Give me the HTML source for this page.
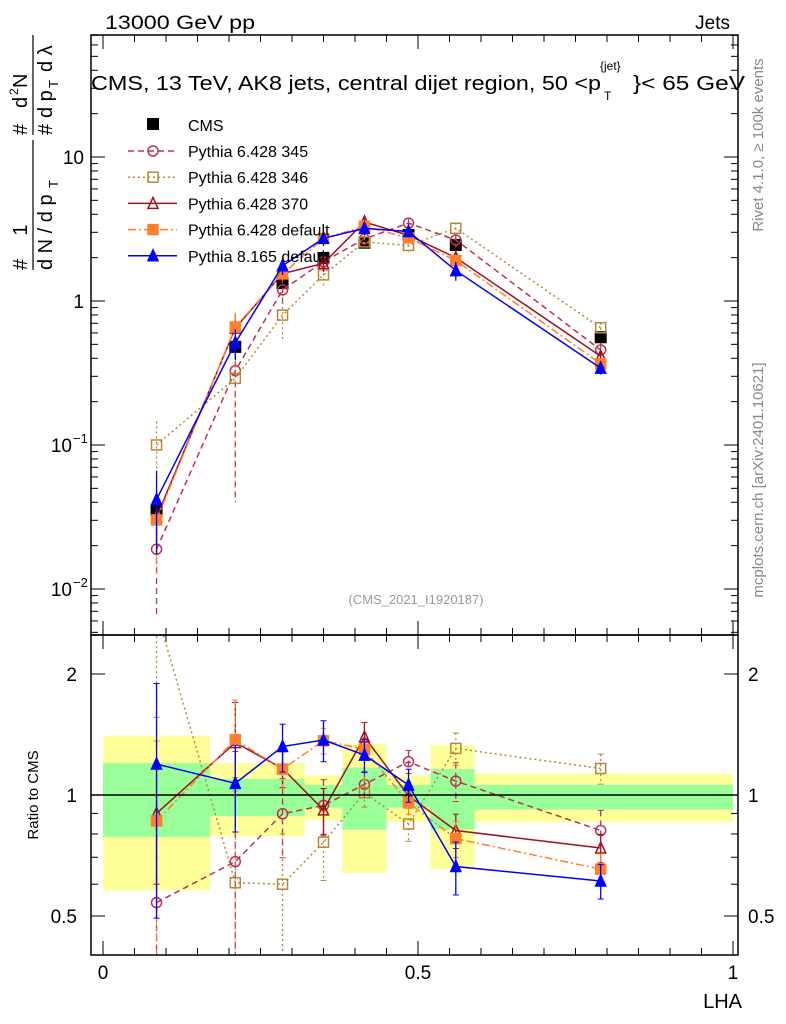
<!DOCTYPE html>
<html><head><meta charset="utf-8"><style>
html,body{margin:0;padding:0;background:#fff;overflow:hidden;width:786px;height:1024px;}
svg{display:block;position:absolute;left:0;top:0;font-family:"Liberation Sans",sans-serif;}
</style></head><body>
<svg id="c" width="786" height="1024" viewBox="0 0 786 1024" xmlns="http://www.w3.org/2000/svg">
<defs>
<clipPath id="cm"><rect x="91" y="35" width="647" height="600"/></clipPath>
<clipPath id="cr"><rect x="91" y="635" width="647" height="320"/></clipPath>
</defs>
<g id="bands" clip-path="url(#cr)"></g>
<g id="grid"></g>
<g id="marks"></g>
<rect x="91" y="35" width="647" height="600" fill="none" stroke="#000" stroke-width="1.5"/>
<rect x="91" y="635" width="647" height="320" fill="none" stroke="#000" stroke-width="1.5"/>
<line x1="91" y1="795" x2="738" y2="795" stroke="#000" stroke-width="1.5"/>
<text x="105" y="29" font-size="19" textLength="150" lengthAdjust="spacingAndGlyphs">13000 GeV pp</text>
<text x="730" y="29" font-size="19" text-anchor="end">Jets</text>
<text x="91" y="90" font-size="20" textLength="510" lengthAdjust="spacingAndGlyphs">CMS, 13 TeV, AK8 jets, central dijet region, 50 &lt;p</text>
<text x="604" y="100" font-size="12">T</text>
<text x="600" y="70" font-size="12">{jet}</text>
<text x="633" y="90" font-size="20" textLength="112" lengthAdjust="spacingAndGlyphs">}&lt; 65 GeV</text>
<text transform="translate(763,145) rotate(-90)" font-size="15" fill="#888" text-anchor="middle">Rivet 4.1.0, ≥ 100k events</text>
<text transform="translate(763,480) rotate(-90)" font-size="15" fill="#888" text-anchor="middle">mcplots.cern.ch [arXiv:2401.10621]</text>
<text x="416" y="604" font-size="13" fill="#999" text-anchor="middle">(CMS_2021_I1920187)</text>
<text transform="translate(38,795) rotate(-90)" font-size="15" text-anchor="middle">Ratio to CMS</text>
<text x="742" y="1008" font-size="20" text-anchor="end">LHA</text>
<g font-size="20">
<text transform="translate(27,270) rotate(-90)" >#</text>
<text transform="translate(27,230) rotate(-90)" text-anchor="middle">1</text>
<line x1="33" y1="270" x2="33" y2="140" stroke="#000" stroke-width="1.2"/>
<text transform="translate(52,270) rotate(-90)">d N / d p</text>
<text transform="translate(58,188) rotate(-90)" font-size="13">T</text>
<text transform="translate(27,135) rotate(-90)">#</text>
<text transform="translate(27,108) rotate(-90)">d</text>
<text transform="translate(18,95) rotate(-90)" font-size="12">2</text>
<text transform="translate(27,88) rotate(-90)">N</text>
<line x1="33" y1="135" x2="33" y2="35" stroke="#000" stroke-width="1.2"/>
<text transform="translate(52,135) rotate(-90)">#</text>
<text transform="translate(52,118) rotate(-90)">d p</text>
<text transform="translate(58,88) rotate(-90)" font-size="13">T</text>
<text transform="translate(52,72) rotate(-90)">d λ</text>
</g>
<g id="legend"></g>
</svg>
<script>
const NS="http://www.w3.org/2000/svg";
// data
const lhaCenters=[0.085,0.21,0.285,0.35,0.415,0.485,0.56,0.79];
const cmsValues=[0.035,0.48,1.33,1.99,2.54,2.87,2.45,0.56];
const cmsErr=[0.004,0.04,0.08,0.1,0.1,0.12,0.12,0.03];
const bandEdges=[0,0.17,0.32,0.38,0.45,0.52,0.59,1.0];
const yellowHi=[1.405,1.20,1.12,1.34,1.12,1.33,1.13];
const yellowLo=[0.58,0.79,0.867,0.64,0.857,0.655,0.857];
const greenHi=[1.20,1.096,1.06,1.17,1.06,1.16,1.06];
const greenLo=[0.786,0.887,0.93,0.82,0.93,0.82,0.92];
const ratio345=[0.54,0.683,0.898,0.942,1.063,1.21,1.083,0.816];
const err345=[0.35,0.6,0.2,0.15,0.08,0.08,0.12,0.1];
const ratio346=[2.86,0.605,0.60,0.763,1.013,0.847,1.306,1.164];
const err346=[1.3,0.5,0.2,0.15,0.08,0.08,0.12,0.1];
const ratio370=[0.9,1.35,1.164,0.918,1.394,0.995,0.816,0.738];
const err370=[0.3,0.35,0.12,0.12,0.12,0.06,0.08,0.06];
const ratioDef=[0.862,1.373,1.16,1.365,1.30,0.956,0.779,0.654];
const errDef=[0.5,0.35,0.12,0.1,0.08,0.06,0.08,0.06];
const ratioP8=[1.194,1.069,1.32,1.37,1.257,1.059,0.664,0.611];
const errP8=[0.7,0.26,0.18,0.16,0.12,0.1,0.1,0.06];
const mainYTicks=[0.01,0.1,1,10];
const ratioYTicks=[0.5,1,2];
const xTicks=[0,0.5,1];

const X=v=>103+630*v;
const YM=v=>301-144*Math.log10(v);
const YR=v=>795-402*Math.log10(v);
const svg=document.getElementById('c');
function mk(tag,attrs,parent){const e=document.createElementNS(NS,tag);for(const k in attrs)e.setAttribute(k,attrs[k]);(parent||svg).appendChild(e);return e;}

// bands
const bands=document.getElementById('bands');
for(let i=0;i<yellowHi.length;i++){
 const r=mk('rect',{x:X(bandEdges[i]),y:YR(yellowHi[i]),width:X(bandEdges[i+1])-X(bandEdges[i]),height:YR(yellowLo[i])-YR(yellowHi[i]),fill:'#ffff99'},bands);
 
 
 const g=mk('rect',{x:X(bandEdges[i]),y:YR(greenHi[i]),width:X(bandEdges[i+1])-X(bandEdges[i]),height:YR(greenLo[i])-YR(greenHi[i]),fill:'#99ff99'},bands);
 
 
}

// axes ticks
const grid=document.getElementById('grid');
for(let d=-3;d<=1;d++){for(let m=1;m<10;m++){const v=m*Math.pow(10,d);const y=YM(v);if(y<35||y>635)continue;const L=m==1?14:7;
 mk('line',{x1:91,x2:91+L,y1:y,y2:y,stroke:'#000'},grid);mk('line',{x1:738,x2:738-L,y1:y,y2:y,stroke:'#000'},grid);}}
mainYTicks.forEach(v=>{const y=YM(v);
 let t;
 if(v>=1){t=mk('text',{x:84,y:y+7,'font-size':19,'text-anchor':'end'},grid);t.textContent=String(v);}
 else{t=mk('text',{x:72,y:y+7,'font-size':19,'text-anchor':'end'},grid);t.textContent='10';const s=mk('text',{x:73,y:y-2,'font-size':13},grid);s.textContent='\u2212'+Math.round(-Math.log10(v));}
 
 
});
[0.5,0.6,0.7,0.8,0.9,1,2].forEach(v=>{const y=YR(v);if(y<635||y>955)return;const L=(v==1||v==2||v==0.5)?14:7;
 mk('line',{x1:91,x2:91+L,y1:y,y2:y,stroke:'#000'},grid);mk('line',{x1:738,x2:738-L,y1:y,y2:y,stroke:'#000'},grid);});
ratioYTicks.forEach(v=>{const y=YR(v);
 const a=mk('text',{x:77,y:y+7,'font-size':19,'text-anchor':'end'},grid);a.textContent=String(v);
 
 
 const b=mk('text',{x:748,y:y+7,'font-size':19},grid);b.textContent=String(v);
 
 
});
for(let i=0;i<=20;i++){const v=i*0.05;const x=X(v);if(x>738)continue;const L=(i%10==0)?14:7;
 mk('line',{x1:x,x2:x,y1:955,y2:955-L,stroke:'#000'},grid);mk('line',{x1:x,x2:x,y1:635,y2:635-L,stroke:'#000'},grid);
 mk('line',{x1:x,x2:x,y1:635,y2:635+L,stroke:'#000'},grid);mk('line',{x1:x,x2:x,y1:35,y2:35+L,stroke:'#000'},grid);}
xTicks.forEach(v=>{const t=mk('text',{x:X(v),y:979,'font-size':19,'text-anchor':'middle'},grid);t.textContent=String(v);
 
 });

// series
const series=[
 {name:'Pythia 6.428 345',r:ratio345,e:err345,color:'#c03050',dash:'6,4',marker:'circle',fill:'none'},
 {name:'Pythia 6.428 346',r:ratio346,e:err346,color:'#b8863b',dash:'2,3',marker:'square',fill:'none'},
 {name:'Pythia 6.428 370',r:ratio370,e:err370,color:'#a01020',dash:'',marker:'triangle',fill:'none'},
 {name:'Pythia 6.428 default',r:ratioDef,e:errDef,color:'#ff7f2a',dash:'8,3,2,3',marker:'square',fill:'#ff7f2a'},
 {name:'Pythia 8.165 default',r:ratioP8,e:errP8,color:'#0000ff',dash:'',marker:'triangle',fill:'#0000ff'}
];
const marks=document.getElementById('marks');
function marker(g,type,x,y,color,fill,s){
 if(type=='circle')return mk('circle',{cx:x,cy:y,r:s,fill:fill=='none'?'#fff':fill,'fill-opacity':fill=='none'?0:1,stroke:color,'stroke-width':1.5},g);
 if(type=='square')return mk('rect',{x:x-s,y:y-s,width:2*s,height:2*s,fill:fill,stroke:color,'stroke-width':1.5},g);
 return mk('path',{d:`M${x},${y-s-1}L${x+s},${y+s}L${x-s},${y+s}Z`,fill:fill,stroke:color,'stroke-width':1.5},g);
}
const gm=mk('g',{'clip-path':'url(#cm)'},marks);


const gr=mk('g',{'clip-path':'url(#cr)'},marks);


// CMS
lhaCenters.forEach((c,i)=>{const x=X(c);
 mk('line',{x1:x,x2:x,y1:YM(cmsValues[i]+cmsErr[i]),y2:YM(cmsValues[i]-cmsErr[i]),stroke:'#000'},gm);
 const m=mk('rect',{x:x-6,y:YM(cmsValues[i])-6,width:12,height:12,fill:'#000'},gm);
 
 
});
series.forEach((s,si)=>{
 const mainVals=s.r.map((r,i)=>r*cmsValues[i]);
 const pm=mk('polyline',{points:lhaCenters.map((c,i)=>X(c)+','+YM(mainVals[i])).join(' '),fill:'none',stroke:s.color,'stroke-width':1.5,'stroke-dasharray':s.dash},gm);
 
 
 const pr=mk('polyline',{points:lhaCenters.map((c,i)=>X(c)+','+YR(s.r[i])).join(' '),fill:'none',stroke:s.color,'stroke-width':1.5,'stroke-dasharray':s.dash},gr);
 
 
 lhaCenters.forEach((c,i)=>{const x=X(c);
  const lo=Math.max(s.r[i]-s.e[i],0.01);
  mk('line',{x1:x,x2:x,y1:YR(s.r[i]+s.e[i]),y2:YR(lo),stroke:s.color,'stroke-width':1.3,'stroke-dasharray':s.dash},gr);
  mk('line',{x1:x-3,x2:x+3,y1:YR(s.r[i]+s.e[i]),y2:YR(s.r[i]+s.e[i]),stroke:s.color},gr);
  mk('line',{x1:x-3,x2:x+3,y1:YR(lo),y2:YR(lo),stroke:s.color},gr);
  const me=s.e[i]*cmsValues[i];
  mk('line',{x1:x,x2:x,y1:YM(mainVals[i]+me),y2:YM(Math.max(mainVals[i]-me,1e-4)),stroke:s.color,'stroke-width':1.3,'stroke-dasharray':s.dash},gm);
  const a=marker(gm,s.marker,x,YM(mainVals[i]),s.color,s.fill,5);
  
  
  const b=marker(gr,s.marker,x,YR(s.r[i]),s.color,s.fill,5);
  
  
 });
});
// legend
const lg=document.getElementById('legend');
const lc=mk('rect',{x:147,y:118,width:12,height:12,fill:'#000'},lg);


const lt=mk('text',{x:188,y:131,'font-size':16},lg);lt.textContent='CMS';


series.forEach((s,i)=>{const y=151+26.2*i;
 mk('line',{x1:128,x2:177,y1:y,y2:y,stroke:s.color,'stroke-width':1.5,'stroke-dasharray':s.dash},lg);
 marker(lg,s.marker,153,y,s.color,s.fill,5);
 const t=mk('text',{x:188,y:y+6,'font-size':16},lg);t.textContent=s.name;
 
 
});
</script>
</body></html>
